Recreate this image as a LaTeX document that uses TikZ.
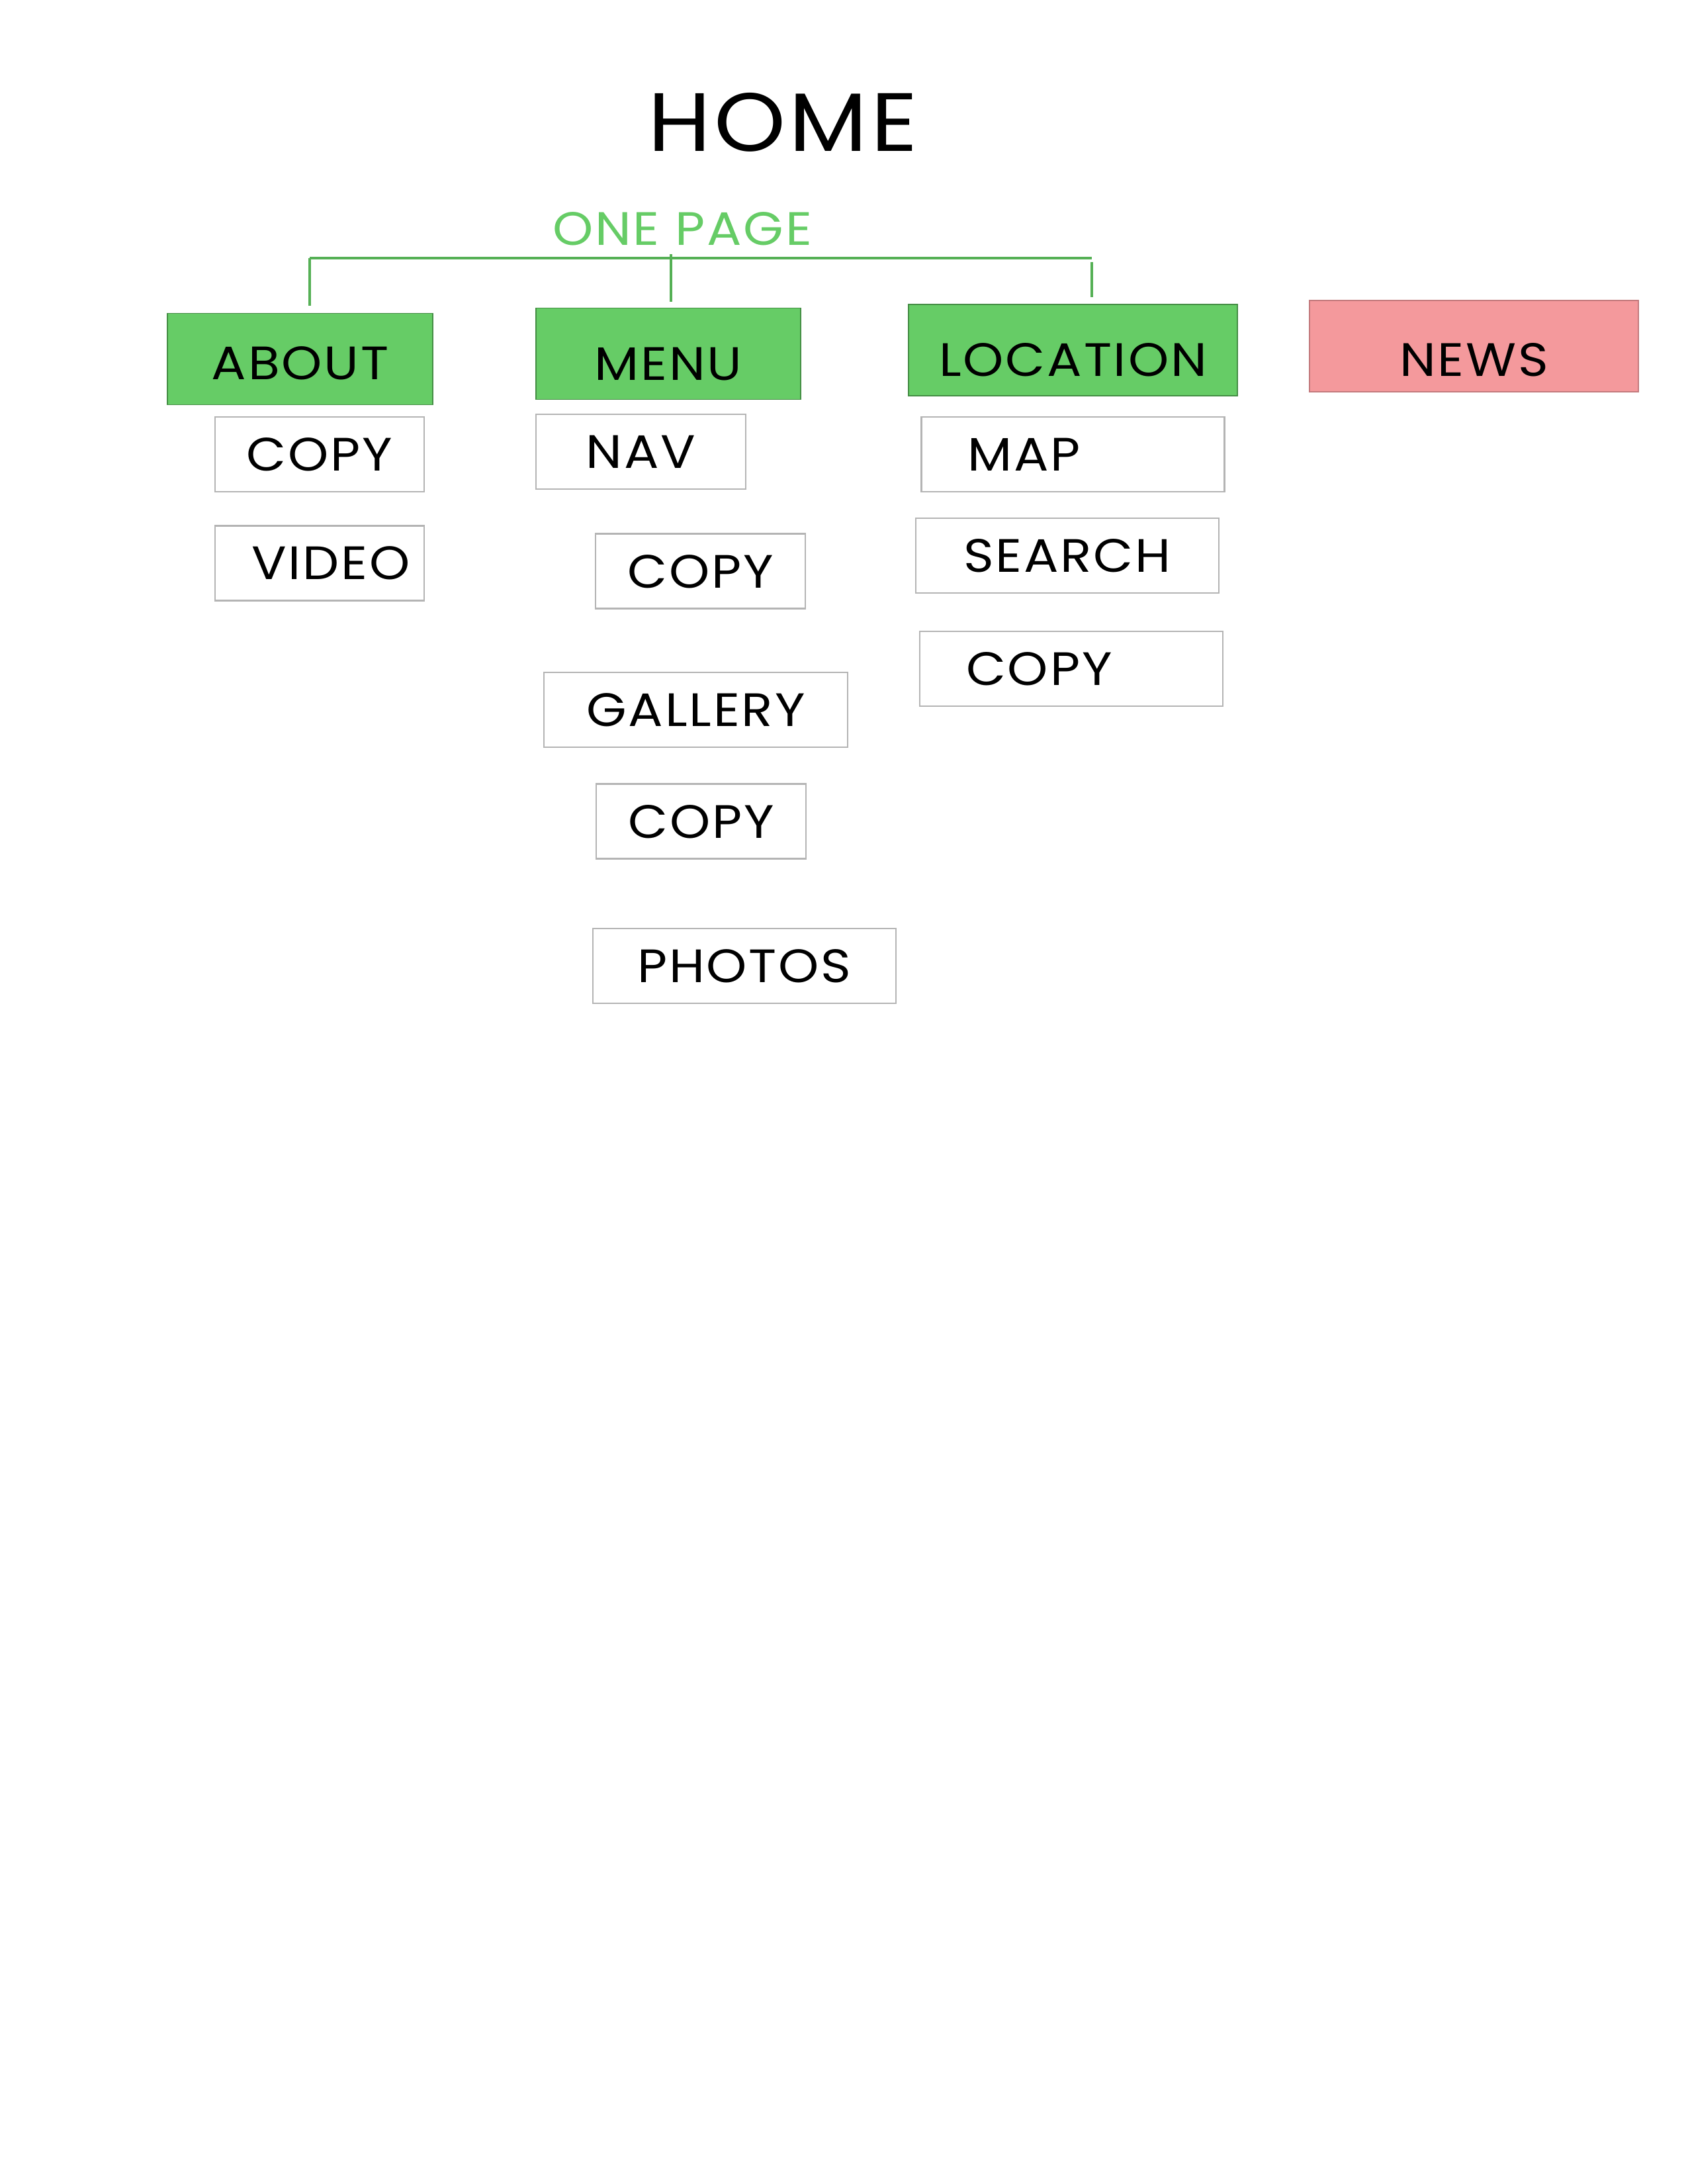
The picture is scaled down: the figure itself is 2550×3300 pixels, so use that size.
\documentclass[tikz,border=0pt]{standalone}
\usepackage{fontspec}
\setmainfont{Poppins}[FakeStretch=1.1, LetterSpace=4]
\definecolor{leafgreen}{HTML}{66CC66}
\definecolor{rulegreen}{HTML}{55B055}
\definecolor{newspink}{HTML}{F4999C}
\definecolor{boxgray}{HTML}{B4B4B4}

\begin{document}
\begin{tikzpicture}[x=0.24pt, y=-0.24pt,
    label/.style={font=\fontsize{17}{20}\selectfont, text depth=0pt},
    topbox/.style={label, draw=rulegreen!80!black, line width=0.3pt, minimum height=138*0.24pt, text height=19pt},
    wbox/.style={label, draw=boxgray, line width=0.5pt, minimum height=113*0.24pt, inner sep=0pt},
    lbox/.style={wbox, align=left, inner xsep=70*0.24pt, text width=(458-140)*0.24pt}]
    \useasboundingbox (0,0) rectangle (2550,3300);
    \node (home) at (1183,184) [font=\fontsize{30}{34}\selectfont, text depth=0pt] {HOME};
    \node (onepage) at (1031,346) [label, text=leafgreen] {ONE PAGE};
    % top row
    \node (about) at (453.5,542.5) [topbox, fill=leafgreen, minimum width=401*0.24pt, text height=15pt] {ABOUT};
    \node (menu) at (1010,534.5) [topbox, fill=leafgreen, minimum width=400*0.24pt] {MENU};
    \node (location) at (1621.5,529) [topbox, fill=leafgreen, minimum width=497*0.24pt] {LOCATION};
    \node (news) at (2227.5,523) [topbox, fill=newspink, draw=newspink!80!black, minimum width=497*0.24pt, text height=22pt] {NEWS};
    % bracket
    \coordinate (barL) at (468,390);
    \coordinate (barR) at (1650,390);
    \coordinate (dropA) at (468,462);
    \coordinate (topB) at (1014,384);
    \coordinate (dropB) at (1014,456);
    \coordinate (topC) at (1650,396);
    \coordinate (dropC) at (1650,449);
    \draw [rulegreen, line width=1pt] (barL) -- (barR);
    \draw [rulegreen, line width=1pt] (barL) -- (dropA);
    \draw [rulegreen, line width=1pt] (topB) -- (dropB);
    \draw [rulegreen, line width=1pt] (topC) -- (dropC);
    % sub pages
    \foreach \n/\x/\y/\w/\t in {copyA/483/686.5/316/COPY, nav/968.5/682.5/317/NAV,
        copyB/1058.5/863/317/COPY, gallery/1051.5/1072.5/459/GALLERY,
        copyC/1059.5/1241/317/COPY, photos/1125/1459.5/458/PHOTOS, search/1613/839.5/458/SEARCH} {
      \node (\n) at (\x,\y) [wbox, minimum width=\w*0.24pt] {\t};
    }
    \node (video) at (483,851) [wbox, minimum width=316*0.24pt, text width=(316-110)*0.24pt, align=right] {VIDEO};
    \node (map) at (1621.5,686.5) [lbox] {MAP};
    \node (copyD) at (1619,1010.5) [lbox] {COPY};
\end{tikzpicture}
\end{document}
